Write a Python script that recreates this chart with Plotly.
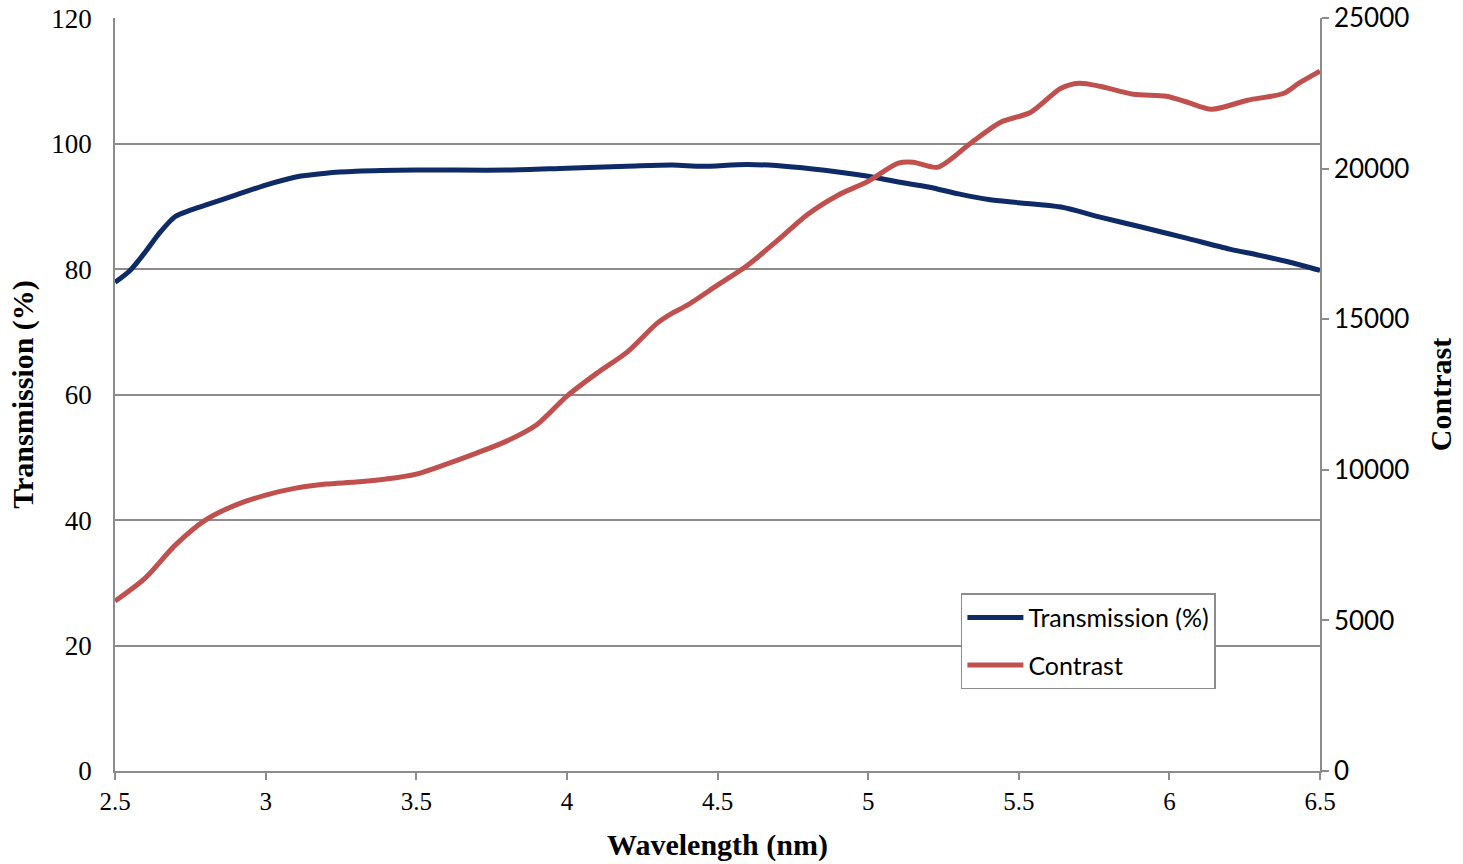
import plotly.graph_objects as go

# Transmission (%) vs wavelength
trans_wl = [2.5, 2.55, 2.6, 2.65, 2.7, 2.75, 2.8, 2.9, 3.0, 3.1, 3.2, 3.3, 3.5, 3.8, 4.0, 4.2, 4.35,
            4.45, 4.6, 4.75, 4.9, 5.0, 5.1, 5.2, 5.3, 5.4, 5.5, 5.64, 5.77, 5.9, 6.06, 6.2, 6.3, 6.4, 6.5]
trans_val = [77.9, 79.8, 82.7, 85.9, 88.4, 89.4, 90.2, 91.8, 93.4, 94.7, 95.3, 95.6, 95.8, 95.8, 96.1,
             96.4, 96.6, 96.4, 96.7, 96.3, 95.5, 94.8, 93.9, 93.1, 92.0, 91.1, 90.6, 89.9, 88.3, 86.8,
             84.9, 83.2, 82.2, 81.1, 79.8]

# Contrast vs wavelength
con_wl = [2.5, 2.6, 2.7, 2.8, 2.9, 3.0, 3.1, 3.2, 3.3, 3.4, 3.5, 3.6, 3.7, 3.8, 3.9, 4.0, 4.1, 4.2,
          4.3, 4.35, 4.4, 4.5, 4.6, 4.7, 4.8, 4.9, 5.0, 5.1, 5.15, 5.23, 5.34, 5.44, 5.54, 5.64, 5.7,
          5.77, 5.88, 5.99, 6.06, 6.14, 6.26, 6.38, 6.43, 6.5]
con_val = [5644, 6408, 7503, 8333, 8831, 9163, 9396, 9529, 9595, 9695, 9861, 10193, 10558, 10956,
           11500, 12450, 13214, 13911, 14874, 15206, 15471, 16135, 16799, 17629, 18493, 19124, 19588,
           20186, 20219, 20053, 20850, 21547, 21879, 22676, 22842, 22742, 22477, 22410, 22211, 21979,
           22278, 22510, 22842, 23240]

x_ticks = [2.5, 3, 3.5, 4, 4.5, 5, 5.5, 6, 6.5]
x_tick_text = ["2.5", "3", "3.5", "4", "4.5", "5", "5.5", "6", "6.5"]
y_ticks = [0, 20, 40, 60, 80, 100, 120]
y2_ticks = [0, 5000, 10000, 15000, 20000, 25000]
y2_tick_text = ["0", "5000", "10000", "15000", "20000", "25000"]

serif = "Liberation Serif, Times New Roman, serif"
sans = "Lato, Open Sans, sans-serif"
grid = "#8c8c8c"

# tiny headroom so the top gridline at 120 is drawn
Y_TOP = 120.04
Y2_TOP = 25000 * Y_TOP / 120

fig = go.Figure()
fig.add_trace(go.Scatter(x=trans_wl, y=trans_val, name="Transmission (%)", mode="lines",
                         legendgroup="a",
                         line=dict(color="#0e2a67", width=5, shape="spline", smoothing=0.8)))
fig.add_trace(go.Scatter(x=con_wl, y=con_val, name="Contrast", mode="lines", yaxis="y2",
                         legendgroup="b",
                         line=dict(color="#c0504d", width=5, shape="spline", smoothing=0.8)))

fig.update_layout(
    width=1463, height=864,
    margin=dict(l=115, r=143, t=18, b=93, autoexpand=False),
    paper_bgcolor="white", plot_bgcolor="white",
    showlegend=True,
    legend=dict(x=0.702, y=0.236, xanchor="left", yanchor="top",
                bordercolor=grid, borderwidth=1.5, bgcolor="white",
                font=dict(family=sans, size=25, color="black"),
                itemwidth=56, tracegroupgap=12),
    xaxis=dict(range=[2.5, 6.5], tickvals=x_ticks, ticktext=x_tick_text, automargin=False,
               showgrid=False, showline=True, linecolor=grid, linewidth=1.5,
               ticks="outside", tickcolor=grid, ticklen=7, tickwidth=1.5,
               tickfont=dict(family=serif, size=25, color="black"),
               title=dict(text="<b>Wavelength (nm)</b>", font=dict(family=serif, size=30, color="black"),
                          standoff=20),
               zeroline=False),
    yaxis=dict(range=[0, Y_TOP], tickvals=y_ticks, automargin=False,
               showgrid=True, gridcolor=grid, gridwidth=1.5,
               showline=True, linecolor=grid, linewidth=1.5,
               ticks="", ticklabelstandoff=16, ticklabeloverflow="allow",
               tickfont=dict(family=serif, size=27, color="black"),
               title=dict(text="<b>Transmission (%)</b>", font=dict(family=serif, size=30, color="black"),
                          standoff=9),
               zeroline=False),
    yaxis2=dict(range=[0, Y2_TOP], tickvals=y2_ticks, ticktext=y2_tick_text, automargin=False,
                overlaying="y", side="right", showgrid=False,
                showline=True, linecolor=grid, linewidth=1.5,
                ticks="outside", tickcolor=grid, ticklen=7, tickwidth=1.5,
                ticklabeloverflow="allow",
                tickfont=dict(family=sans, size=26, color="black"),
                title=dict(text="<b>Contrast</b>", font=dict(family=serif, size=30, color="black"),
                           standoff=22),
                zeroline=False),
)

fig.write_html("out.html", config={"displayModeBar": False},
               post_script="document.body.style.margin='0';document.body.style.overflow='hidden';")
